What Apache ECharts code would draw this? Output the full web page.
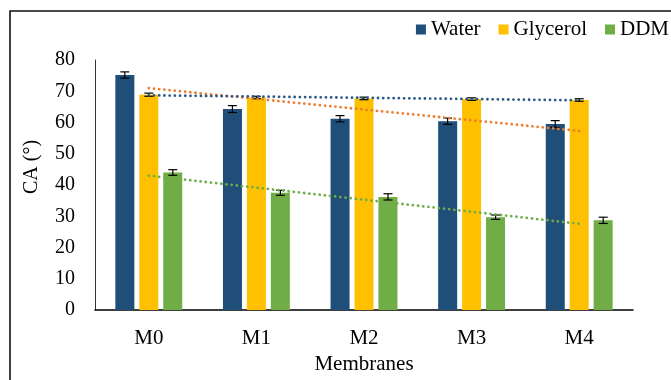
<!DOCTYPE html>
<html>
<head>
<meta charset="utf-8">
<script src="https://cdn.jsdelivr.net/npm/echarts@6/dist/echarts.min.js"></script>
<style>html,body{margin:0;padding:0;background:#fff;}#c{width:671px;height:380px;}</style>
</head>
<body>
<div id="c"></div>
<script>
const categories = ['M0', 'M1', 'M2', 'M3', 'M4'];
const water = [75.2, 64.3, 61.2, 60.4, 59.5];
const glycerol = [68.9, 68.0, 67.7, 67.5, 67.2];
const ddm = [44.0, 37.5, 36.2, 29.7, 28.7];
const waterErr = [1.0, 1.1, 1.0, 1.0, 1.1];
const glycerolErr = [0.5, 0.4, 0.4, 0.4, 0.4];
const ddmErr = [0.9, 0.8, 1.0, 0.7, 1.0];
// linear trendline values read at first and last category
const waterTrend = [71.0, null, null, null, 57.3];
const glycerolTrend = [68.7, null, null, null, 67.1];
const ddmTrend = [43.0, null, null, null, 27.6];
const yTicks = [0, 10, 20, 30, 40, 50, 60, 70, 80];

const FONT = '"Liberation Serif", "Times New Roman", serif';
const colors = {water: '#1F4E79', glycerol: '#FFC000', ddm: '#70AD47', orange: '#ED7D31', blueTrend: '#2B5A87'};

function barSeries(name, data, color) {
  return {name: name, type: 'bar', data: data, barWidth: 19, barGap: '26%',
    itemStyle: {color: color}, z: 2};
}
function errSeries(id, vals, errs, offset) {
  return {
    id: id, type: 'custom', silent: true, z: 5,
    encode: {x: 0, y: 1},
    data: categories.map((c, i) => [i, vals[i], errs[i]]),
    renderItem: function (params, api) {
      const i = api.value(0), v = api.value(1), e = api.value(2);
      const top = api.coord([i, v + e]);
      const bot = api.coord([i, v - e]);
      const cx = top[0] + offset;
      const hw = 4.5;
      const st = {stroke: '#000', lineWidth: 1.2};
      return {type: 'group', children: [
        {type: 'line', shape: {x1: cx, y1: top[1], x2: cx, y2: bot[1]}, style: st},
        {type: 'line', shape: {x1: cx - hw, y1: top[1], x2: cx + hw, y2: top[1]}, style: st},
        {type: 'line', shape: {x1: cx - hw, y1: bot[1], x2: cx + hw, y2: bot[1]}, style: st}
      ]};
    }
  };
}
function trendSeries(id, data, color) {
  return {id: id, type: 'line', data: data, connectNulls: true, symbol: 'none', silent: true, z: 6,
    lineStyle: {color: color, width: 2.8, type: [0.01, 5.2], cap: 'round'}};
}

const chart = echarts.init(document.getElementById('c'), null, {renderer: 'canvas'});
chart.setOption({
  animation: false,
  backgroundColor: '#fff',
  textStyle: {fontFamily: FONT},
  grid: {left: 95, right: 38, top: 60, bottom: 70, containLabel: false},
  legend: {
    data: ['Water', 'Glycerol', 'DDM'],
    right: 2, top: 19, width: 320, itemWidth: 10, itemHeight: 10, itemGap: 18,
    icon: 'rect', padding: 0,
    textStyle: {fontFamily: FONT, fontSize: 21, color: '#000'}
  },
  xAxis: {
    type: 'category', data: categories,
    name: 'Membranes', nameLocation: 'middle', nameGap: 42,
    nameTextStyle: {fontFamily: FONT, fontSize: 21, color: '#000'},
    axisLine: {lineStyle: {color: '#000', width: 1.5}},
    axisTick: {show: false},
    axisLabel: {fontFamily: FONT, fontSize: 21, color: '#000', margin: 18}
  },
  yAxis: {
    type: 'value', min: yTicks[0], max: yTicks[yTicks.length - 1], interval: 10,
    name: 'CA (°)', nameLocation: 'middle', nameGap: 53, nameRotate: 90,
    nameTextStyle: {fontFamily: FONT, fontSize: 20, color: '#000', padding: [0, 0, 0, 36]},
    axisLine: {show: true, lineStyle: {color: '#333', width: 1}},
    axisTick: {show: false},
    splitLine: {show: false},
    axisLabel: {fontFamily: FONT, fontSize: 20, color: '#000', margin: 20}
  },
  graphic: [{type: 'rect', shape: {x: 10, y: 11, width: 720, height: 420},
    style: {fill: 'none', stroke: '#111', lineWidth: 1.6}, silent: true, z: 100}],
  series: [
    barSeries('Water', water, colors.water),
    barSeries('Glycerol', glycerol, colors.glycerol),
    barSeries('DDM', ddm, colors.ddm),
    errSeries('errW', water, waterErr, -24),
    errSeries('errG', glycerol, glycerolErr, 0),
    errSeries('errD', ddm, ddmErr, 24),
    trendSeries('trendW', waterTrend, colors.orange),
    trendSeries('trendG', glycerolTrend, colors.blueTrend),
    trendSeries('trendD', ddmTrend, colors.ddm)
  ]
});
</script>
</body>
</html>
